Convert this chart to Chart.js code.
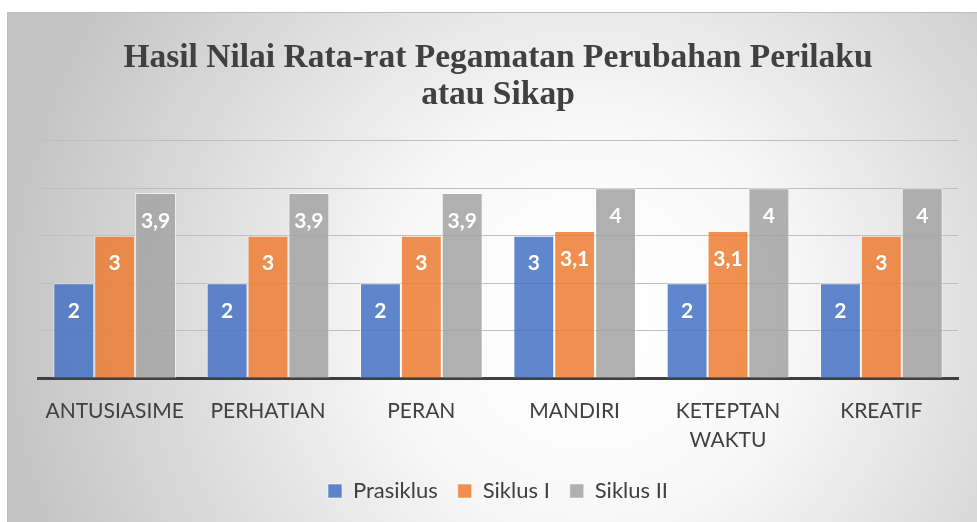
<!DOCTYPE html>
<html>
<head>
<meta charset="utf-8">
<script src="https://cdn.jsdelivr.net/npm/chart.js@4"></script>
<style>
  html, body { margin: 0; padding: 0; background: #fff; }
  #wrap { width: 977px; height: 522px; }
</style>
</head>
<body>
<div id="wrap"><canvas id="chart" width="977" height="522"></canvas></div>
<script>
const categories = ['ANTUSIASIME', 'PERHATIAN', 'PERAN', 'MANDIRI', ['KETEPTAN', 'WAKTU'], 'KREATIF'];
const prasiklus = [2, 2, 2, 3, 2, 2];
const siklus1 = [3, 3, 3, 3.1, 3.1, 3];
const siklus2 = [3.9, 3.9, 3.9, 4, 4, 4];
const titleLines = ['Hasil Nilai Rata-rat Pegamatan Perubahan Perilaku', 'atau Sikap'];

const frameBg = {
    id: 'frameBg',
    beforeDraw(chart) {
        const ctx = chart.ctx;
        ctx.save();
        ctx.fillStyle = '#fff';
        ctx.fillRect(0, 0, chart.width, chart.height);
        const g = ctx.createRadialGradient(590, 320, 40, 590, 320, 600);
        g.addColorStop(0, '#ffffff');
        g.addColorStop(0.3, '#f7f7f7');
        g.addColorStop(1, '#c2c2c2');
        ctx.fillStyle = g;
        ctx.fillRect(7, 12, chart.width - 7, chart.height - 12);
        ctx.strokeStyle = '#bdbdbd';
        ctx.lineWidth = 1;
        ctx.beginPath();
        ctx.moveTo(7.5, chart.height);
        ctx.lineTo(7.5, 12.5);
        ctx.lineTo(chart.width, 12.5);
        ctx.stroke();
        ctx.restore();
    }
};

// white value labels inside the top of each bar, decimal comma
const valueLabels = {
    id: 'valueLabels',
    afterDatasetsDraw(chart) {
        const ctx = chart.ctx;
        ctx.save();
        ctx.font = 'bold 21px Lato';
        ctx.fillStyle = '#ffffff';
        ctx.textAlign = 'center';
        ctx.textBaseline = 'middle';
        chart.data.datasets.forEach((ds, i) => {
            chart.getDatasetMeta(i).data.forEach((bar, j) => {
                const txt = String(ds.data[j]).replace('.', ',');
                ctx.fillText(txt, bar.x, bar.y + 28);
            });
        });
        ctx.restore();
    }
};

new Chart(document.getElementById('chart'), {
    type: 'bar',
    data: {
        labels: categories,
        datasets: [
            { label: 'Prasiklus', data: prasiklus, backgroundColor: 'rgba(68,114,196,0.85)' },
            { label: 'Siklus I', data: siklus1, backgroundColor: 'rgba(237,125,49,0.85)' },
            { label: 'Siklus II', data: siklus2, backgroundColor: 'rgba(165,165,165,0.88)' }
        ]
    },
    options: {
        responsive: false,
        animation: false,
        datasets: {
            bar: {
                categoryPercentage: 0.8,
                barPercentage: 1,
                borderWidth: 1,
                borderColor: 'rgba(255,255,255,0.55)'
            }
        },
        layout: { padding: { top: 40, left: 38, right: 19, bottom: 10 } },
        scales: {
            x: {
                grid: { display: false, drawTicks: false },
                border: { display: true, color: '#404040', width: 3 },
                ticks: { color: '#404040', font: { family: 'Lato', size: 21, lineHeight: 1.4 }, padding: 18, maxRotation: 0 },
                // legend sits closer under the wrapped labels than the default stacking allows
                afterFit: scale => { scale.height -= 13; }
            },
            y: {
                min: 0,
                max: 5,
                ticks: { stepSize: 1, display: false },
                grid: { color: '#bfbfbf', drawTicks: false },
                border: { display: false }
            }
        },
        plugins: {
            title: {
                display: true,
                text: titleLines,
                color: '#404040',
                font: { family: 'Liberation Serif', size: 33.5, weight: 'bold', lineHeight: 1.1 },
                padding: { top: 0, bottom: 27 }
            },
            legend: {
                position: 'bottom',
                labels: {
                    color: '#404040',
                    font: { family: 'Lato', size: 22 },
                    boxWidth: 14,
                    boxHeight: 14,
                    padding: 20
                }
            },
            tooltip: { enabled: false }
        }
    },
    plugins: [frameBg, valueLabels]
});
</script>
</body>
</html>
